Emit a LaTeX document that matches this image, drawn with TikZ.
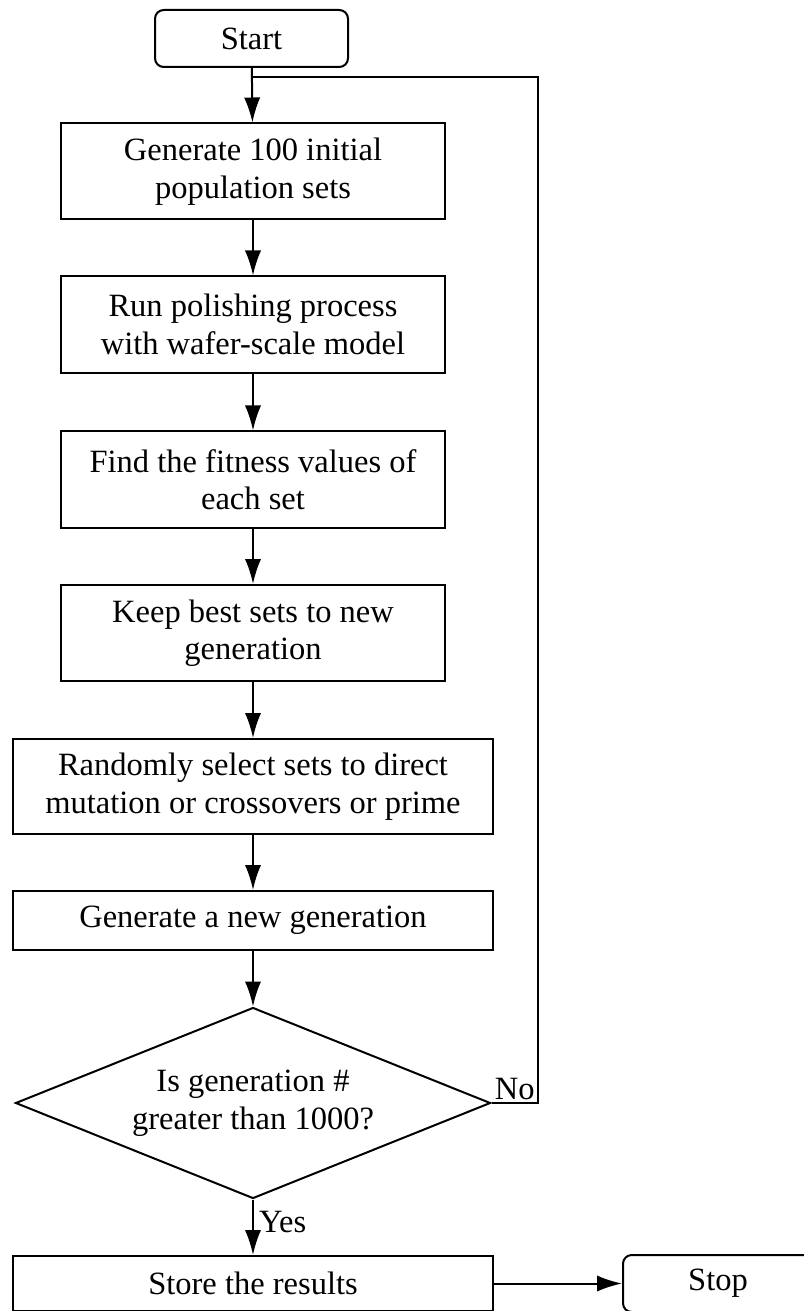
\documentclass[tikz,border=0pt]{standalone}
\usepackage{fontspec}
\setmainfont{Liberation Serif}
\usetikzlibrary{arrows.meta,shapes.geometric}
\begin{document}
\begin{tikzpicture}[x=0.4pt,y=-0.4pt,>={Latex[length=10pt,width=6.5pt]},line width=0.8pt,
  font=\fontsize{13}{15}\selectfont,
  box/.style={draw,align=center,inner sep=0pt,minimum width=153.6pt,minimum height=38.4pt},
  widebox/.style={draw,align=center,inner sep=0pt,minimum width=191.6pt,minimum height=38pt},
  term/.style={draw,rounded corners=3.5pt,align=center,inner sep=0pt,minimum height=22.8pt},
  decision/.style={draw,diamond,aspect=2.5,align=center,inner sep=0pt,minimum width=190pt,minimum height=76.4pt}]
\useasboundingbox (0,0) rectangle (804,1311);

\node[term,minimum width=77.2pt] (s0) at (251.5,38.5) {Start};
\node[box] (b1) at (253,171.5) {Generate 100 initial\\population sets};
\node[box] (b2) at (253,324.5) {Run polishing process\\with wafer-scale model};
\node[box] (b3) at (253,479.5) {Find the fitness values of\\each set};
\node[box] (b4) at (253,633) {Keep best sets to new\\generation};
\node[widebox] (b5) at (253,786.5) {Randomly select sets to direct\\mutation or crossovers or prime};
\node[widebox,minimum height=23.6pt] (b6) at (253,920.5) {Generate a new generation};
\node[decision] (dec) at (253,1103) {Is generation \#\\greater than 1000?};
\node[widebox,minimum height=22pt] (store) at (253,1283.5) {Store the results};
\node[term,minimum width=76pt] (stop) at (718,1283.5) {Stop};

\coordinate (lp) at (538,77);
\coordinate (jn) at (253,77);

\draw[->] (s0) -- (b1);
\draw[->] (b1) -- (b2);
\draw[->] (b2) -- (b3);
\draw[->] (b3) -- (b4);
\draw[->] (b4) -- (b5);
\draw[->] (b5) -- (b6);
\draw[->] (b6) -- (dec);
\draw[->] (dec) -- (store);
\draw[->] (store) -- (stop);
\draw (dec.east) -| (lp) -- (jn);

\node[anchor=south east,inner sep=1pt] (no) at (538,1103) {No};
\node[anchor=west,inner sep=2pt] (yes) at (253,1222) {Yes};
\end{tikzpicture}
\end{document}
